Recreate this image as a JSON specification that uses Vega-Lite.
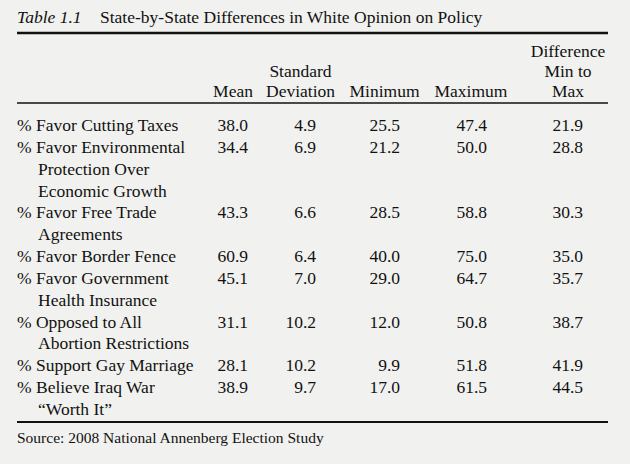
{
  "$schema": "https://vega.github.io/schema/vega-lite/v6.json",
  "width": 591,
  "height": 464,
  "autosize": {"type": "none"},
  "padding": {"left": 17, "right": 22, "top": 0, "bottom": 0},
  "background": "#f1f1ef",
  "config": {
    "view": {"stroke": null},
    "text": {"font": "Liberation Serif", "fontSize": 17.5, "color": "#111111", "baseline": "middle"}
  },
  "encoding": {
    "y": {
      "field": "line",
      "type": "quantitative",
      "axis": null,
      "scale": {
        "domain": [0, 1, 2, 4, 5, 6, 19, 20, 21],
        "range": [17.5, 33, 52, 92, 103, 126, 410, 422, 438],
        "nice": false,
        "zero": false
      }
    }
  },
  "resolve": {"scale": {"x": "independent"}},
  "layer": [
    {
      "data": {"values": [{"line": 1, "rule": "top"}]},
      "mark": {"type": "rule", "color": "#111111", "strokeWidth": 2.6},
      "encoding": {}
    },
    {
      "data": {"values": [{"line": 5, "rule": "header"}]},
      "mark": {"type": "rule", "color": "#111111", "strokeWidth": 1.4},
      "encoding": {}
    },
    {
      "data": {"values": [{"line": 20, "rule": "bottom"}]},
      "mark": {"type": "rule", "color": "#111111", "strokeWidth": 2.2},
      "encoding": {}
    },
    {
      "data": {
        "values": [
          {"line": 0, "part": 0, "text": "Table 1.1"},
          {"line": 0, "part": 1, "text": "State-by-State Differences in White Opinion on Policy"}
        ]
      },
      "encoding": {
        "x": {"field": "part", "type": "quantitative", "axis": null, "scale": {"domain": [0, 1], "range": [0, 83], "nice": false, "zero": false}},
        "text": {"field": "text", "type": "nominal"}
      },
      "layer": [
        {"transform": [{"filter": "datum.part == 0"}], "mark": {"type": "text", "align": "left", "fontStyle": "italic"}},
        {"transform": [{"filter": "datum.part == 1"}], "mark": {"type": "text", "align": "left"}}
      ]
    },
    {
      "data": {
        "values": [
          {"line": 2, "col": 5, "text": "Difference"},
          {"line": 3, "col": 2, "text": "Standard"},
          {"line": 3, "col": 5, "text": "Min to"},
          {"line": 4, "col": 1, "text": "Mean"},
          {"line": 4, "col": 2, "text": "Deviation"},
          {"line": 4, "col": 3, "text": "Minimum"},
          {"line": 4, "col": 4, "text": "Maximum"},
          {"line": 4, "col": 5, "text": "Max"}
        ]
      },
      "mark": {"type": "text", "align": "center"},
      "encoding": {
        "x": {"field": "col", "type": "quantitative", "axis": null, "scale": {"domain": [1, 2, 3, 4, 5], "range": [216, 283.5, 367.5, 454, 551], "nice": false, "zero": false}},
        "text": {"field": "text", "type": "nominal"}
      }
    },
    {
      "data": {
        "values": [
          {"line": 6, "indent": 0, "text": "% Favor Cutting Taxes"},
          {"line": 7, "indent": 0, "text": "% Favor Environmental"},
          {"line": 8, "indent": 1, "text": "Protection Over"},
          {"line": 9, "indent": 1, "text": "Economic Growth"},
          {"line": 10, "indent": 0, "text": "% Favor Free Trade"},
          {"line": 11, "indent": 1, "text": "Agreements"},
          {"line": 12, "indent": 0, "text": "% Favor Border Fence"},
          {"line": 13, "indent": 0, "text": "% Favor Government"},
          {"line": 14, "indent": 1, "text": "Health Insurance"},
          {"line": 15, "indent": 0, "text": "% Opposed to All"},
          {"line": 16, "indent": 1, "text": "Abortion Restrictions"},
          {"line": 17, "indent": 0, "text": "% Support Gay Marriage"},
          {"line": 18, "indent": 0, "text": "% Believe Iraq War"},
          {"line": 19, "indent": 1, "text": "“Worth It”"}
        ]
      },
      "mark": {"type": "text", "align": "left"},
      "encoding": {
        "x": {"field": "indent", "type": "quantitative", "axis": null, "scale": {"domain": [0, 1], "range": [0, 21], "nice": false, "zero": false}},
        "text": {"field": "text", "type": "nominal"}
      }
    },
    {
      "data": {
        "values": [
          {"line": 6, "col": 1, "value": 38.0}, {"line": 6, "col": 2, "value": 4.9}, {"line": 6, "col": 3, "value": 25.5}, {"line": 6, "col": 4, "value": 47.4}, {"line": 6, "col": 5, "value": 21.9},
          {"line": 7, "col": 1, "value": 34.4}, {"line": 7, "col": 2, "value": 6.9}, {"line": 7, "col": 3, "value": 21.2}, {"line": 7, "col": 4, "value": 50.0}, {"line": 7, "col": 5, "value": 28.8},
          {"line": 10, "col": 1, "value": 43.3}, {"line": 10, "col": 2, "value": 6.6}, {"line": 10, "col": 3, "value": 28.5}, {"line": 10, "col": 4, "value": 58.8}, {"line": 10, "col": 5, "value": 30.3},
          {"line": 12, "col": 1, "value": 60.9}, {"line": 12, "col": 2, "value": 6.4}, {"line": 12, "col": 3, "value": 40.0}, {"line": 12, "col": 4, "value": 75.0}, {"line": 12, "col": 5, "value": 35.0},
          {"line": 13, "col": 1, "value": 45.1}, {"line": 13, "col": 2, "value": 7.0}, {"line": 13, "col": 3, "value": 29.0}, {"line": 13, "col": 4, "value": 64.7}, {"line": 13, "col": 5, "value": 35.7},
          {"line": 15, "col": 1, "value": 31.1}, {"line": 15, "col": 2, "value": 10.2}, {"line": 15, "col": 3, "value": 12.0}, {"line": 15, "col": 4, "value": 50.8}, {"line": 15, "col": 5, "value": 38.7},
          {"line": 17, "col": 1, "value": 28.1}, {"line": 17, "col": 2, "value": 10.2}, {"line": 17, "col": 3, "value": 9.9}, {"line": 17, "col": 4, "value": 51.8}, {"line": 17, "col": 5, "value": 41.9},
          {"line": 18, "col": 1, "value": 38.9}, {"line": 18, "col": 2, "value": 9.7}, {"line": 18, "col": 3, "value": 17.0}, {"line": 18, "col": 4, "value": 61.5}, {"line": 18, "col": 5, "value": 44.5}
        ]
      },
      "mark": {"type": "text", "align": "right"},
      "encoding": {
        "x": {"field": "col", "type": "quantitative", "axis": null, "scale": {"domain": [1, 2, 3, 4, 5], "range": [231, 299, 383, 470, 566], "nice": false, "zero": false}},
        "text": {"field": "value", "type": "quantitative", "format": ".1f"}
      }
    },
    {
      "data": {"values": [{"line": 21, "indent": 0, "text": "Source: 2008 National Annenberg Election Study"}]},
      "mark": {"type": "text", "align": "left", "fontSize": 15.5},
      "encoding": {
        "x": {"field": "indent", "type": "quantitative", "axis": null, "scale": {"domain": [0, 1], "range": [0, 21], "nice": false, "zero": false}},
        "text": {"field": "text", "type": "nominal"}
      }
    }
  ]
}
